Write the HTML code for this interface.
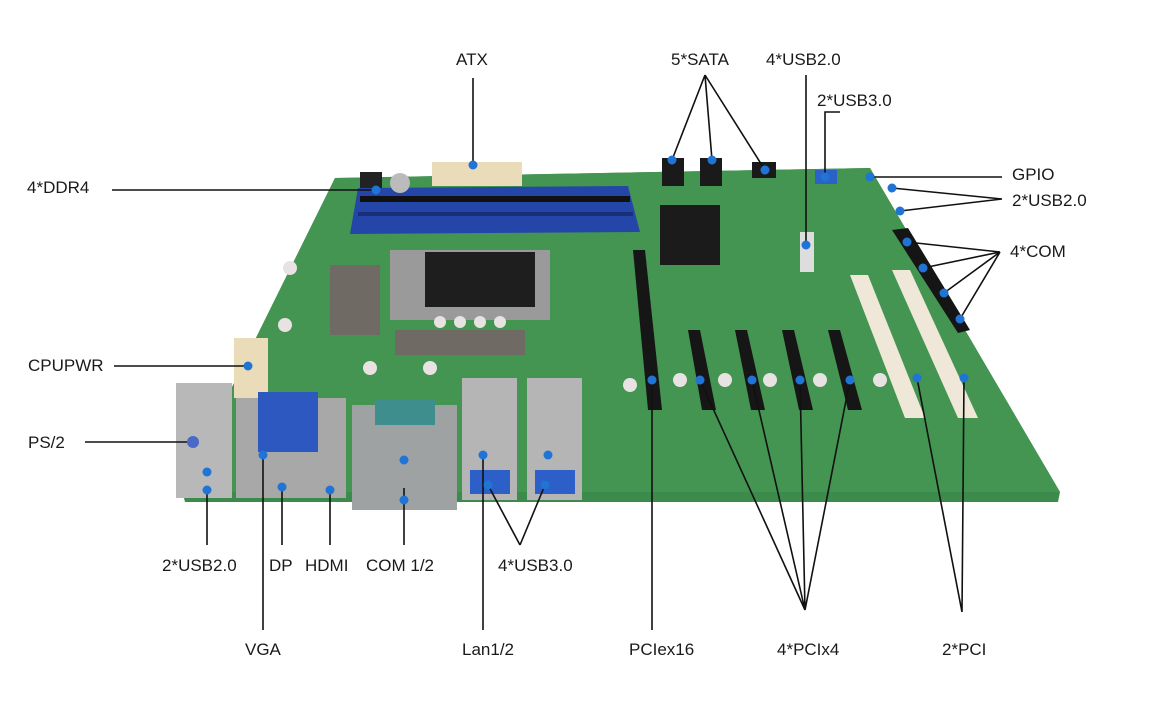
<!DOCTYPE html>
<html><head><meta charset="utf-8"><style>
body{margin:0;background:#fff;}
svg{display:block}
text{font-family:"Liberation Sans",sans-serif;font-size:17px;fill:#1a1a1a;}
</style></head><body>
<svg width="1152" height="725" viewBox="0 0 1152 725" xmlns="http://www.w3.org/2000/svg">
<rect width="1152" height="725" fill="#fff"/>
<polygon points="335,178 870,168 1060,492 1058,502 185,502 182,490 250,350" fill="#3d8b4c"/>
<polygon points="335,178 870,168 1060,492 185,492 250,350" fill="#449452"/>
<rect x="432" y="162" width="90" height="24" fill="#eadcb8"/>
<polygon points="358,188 628,186 640,232 350,234" fill="#2446a8"/>
<rect x="360" y="196" width="270" height="6" fill="#111"/>
<rect x="358" y="212" width="275" height="4" fill="#1a2f7a"/>
<circle cx="400" cy="183" r="10" fill="#bbb"/>
<rect x="360" y="172" width="22" height="16" fill="#222"/>
<rect x="660" y="205" width="60" height="60" fill="#1b1b1b"/>
<rect x="390" y="250" width="160" height="70" fill="#9a9a9a"/>
<rect x="425" y="252" width="110" height="55" fill="#1e1e1e"/>
<rect x="330" y="265" width="50" height="70" fill="#6f6a64"/>
<rect x="395" y="330" width="130" height="25" fill="#6f6a64"/>
<g fill="#e9e2e2"><circle cx="440" cy="322" r="6"/><circle cx="460" cy="322" r="6"/><circle cx="480" cy="322" r="6"/><circle cx="500" cy="322" r="6"/><circle cx="370" cy="368" r="7"/><circle cx="430" cy="368" r="7"/><circle cx="630" cy="385" r="7"/><circle cx="680" cy="380" r="7"/><circle cx="725" cy="380" r="7"/><circle cx="770" cy="380" r="7"/><circle cx="820" cy="380" r="7"/><circle cx="880" cy="380" r="7"/><circle cx="290" cy="268" r="7"/><circle cx="285" cy="325" r="7"/></g>
<rect x="234" y="338" width="34" height="60" fill="#eadcb8"/>
<rect x="662" y="158" width="22" height="28" fill="#1a1a1a"/>
<rect x="700" y="158" width="22" height="28" fill="#1a1a1a"/>
<rect x="752" y="162" width="24" height="16" fill="#1a1a1a"/>
<rect x="815" y="170" width="22" height="14" fill="#2a62c8"/>
<rect x="800" y="232" width="14" height="40" fill="#ddd"/>
<polygon points="892,230 908,228 970,330 958,333" fill="#151515"/>
<polygon points="633,250 645,250 662,410 648,410" fill="#161616"/>
<polygon points="688,330 700,330 716,410 702,410" fill="#161616"/>
<polygon points="735,330 747,330 765,410 751,410" fill="#161616"/>
<polygon points="782,330 794,330 813,410 799,410" fill="#161616"/>
<polygon points="828,330 840,330 862,410 848,410" fill="#161616"/>
<polygon points="850,275 868,275 925,418 905,418" fill="#efe8d8"/>
<polygon points="892,270 910,270 978,418 958,418" fill="#efe8d8"/>
<rect x="176" y="383" width="56" height="115" fill="#b8b8b8"/>
<rect x="236" y="398" width="110" height="100" fill="#a8a8a8"/>
<rect x="258" y="392" width="60" height="60" fill="#2d58c0"/>
<rect x="352" y="405" width="105" height="105" fill="#9fa2a2"/>
<rect x="375" y="400" width="60" height="25" fill="#3f8e8e"/>
<rect x="462" y="378" width="55" height="122" fill="#b5b5b5"/>
<rect x="527" y="378" width="55" height="122" fill="#b5b5b5"/>
<rect x="470" y="470" width="40" height="24" fill="#2d5fc8"/>
<rect x="535" y="470" width="40" height="24" fill="#2d5fc8"/>
<g stroke="#111" stroke-width="1.6" fill="none">
<path d="M473 78V164"/>
<path d="M705 75L672 160M705 75L712 160M705 75L765 170"/>
<path d="M806 75V245"/>
<path d="M840 112H825V175"/>
<path d="M1002 177H870"/>
<path d="M1002 199L892 188M1002 199L900 211"/>
<path d="M1000 252L907 242M1000 252L923 268M1000 252L944 293M1000 252L960 319"/>
<path d="M112 190H376"/>
<path d="M114 366H248"/>
<path d="M85 442H193"/>
<path d="M207 492V545"/>
<path d="M282 487V545"/>
<path d="M330 490V545"/>
<path d="M404 488V545"/>
<path d="M520 545L488 485M520 545L545 485"/>
<path d="M263 455V630"/>
<path d="M483 455V630"/>
<path d="M652 380V630"/>
<path d="M805 610L700 380M805 610L752 380M805 610L800 380M805 610L850 380"/>
<path d="M962 612L917 378M962 612L964 378"/>
</g>
<g fill="#1f74d6">
<circle cx="473" cy="165" r="4.5"/><circle cx="672" cy="160" r="4.5"/><circle cx="712" cy="160" r="4.5"/><circle cx="765" cy="170" r="4.5"/>
<circle cx="806" cy="245" r="4.5"/><circle cx="825" cy="177" r="4.5"/><circle cx="870" cy="177" r="4.5"/><circle cx="892" cy="188" r="4.5"/><circle cx="900" cy="211" r="4.5"/>
<circle cx="907" cy="242" r="4.5"/><circle cx="923" cy="268" r="4.5"/><circle cx="944" cy="293" r="4.5"/><circle cx="960" cy="319" r="4.5"/>
<circle cx="376" cy="190" r="4.5"/><circle cx="248" cy="366" r="4.5"/><circle cx="193" cy="442" r="6" fill="#4a68c8"/>
<circle cx="207" cy="472" r="4.5"/><circle cx="207" cy="490" r="4.5"/><circle cx="282" cy="487" r="4.5"/><circle cx="330" cy="490" r="4.5"/>
<circle cx="404" cy="460" r="4.5"/><circle cx="404" cy="500" r="4.5"/><circle cx="488" cy="485" r="4.5"/><circle cx="545" cy="485" r="4.5"/>
<circle cx="263" cy="455" r="4.5"/><circle cx="483" cy="455" r="4.5"/><circle cx="548" cy="455" r="4.5"/>
<circle cx="652" cy="380" r="4.5"/><circle cx="700" cy="380" r="4.5"/><circle cx="752" cy="380" r="4.5"/><circle cx="800" cy="380" r="4.5"/><circle cx="850" cy="380" r="4.5"/>
<circle cx="917" cy="378" r="4.5"/><circle cx="964" cy="378" r="4.5"/>
</g>
<text x="456" y="65">ATX</text>
<text x="671" y="65">5*SATA</text>
<text x="766" y="65">4*USB2.0</text>
<text x="817" y="106">2*USB3.0</text>
<text x="1012" y="180">GPIO</text>
<text x="1012" y="206">2*USB2.0</text>
<text x="1010" y="257">4*COM</text>
<text x="27" y="193">4*DDR4</text>
<text x="28" y="371">CPUPWR</text>
<text x="28" y="448">PS/2</text>
<text x="162" y="571">2*USB2.0</text>
<text x="269" y="571">DP</text>
<text x="305" y="571">HDMI</text>
<text x="366" y="571">COM 1/2</text>
<text x="498" y="571">4*USB3.0</text>
<text x="245" y="655">VGA</text>
<text x="462" y="655">Lan1/2</text>
<text x="629" y="655">PCIex16</text>
<text x="777" y="655">4*PCIx4</text>
<text x="942" y="655">2*PCI</text>
</svg>
</body></html>
